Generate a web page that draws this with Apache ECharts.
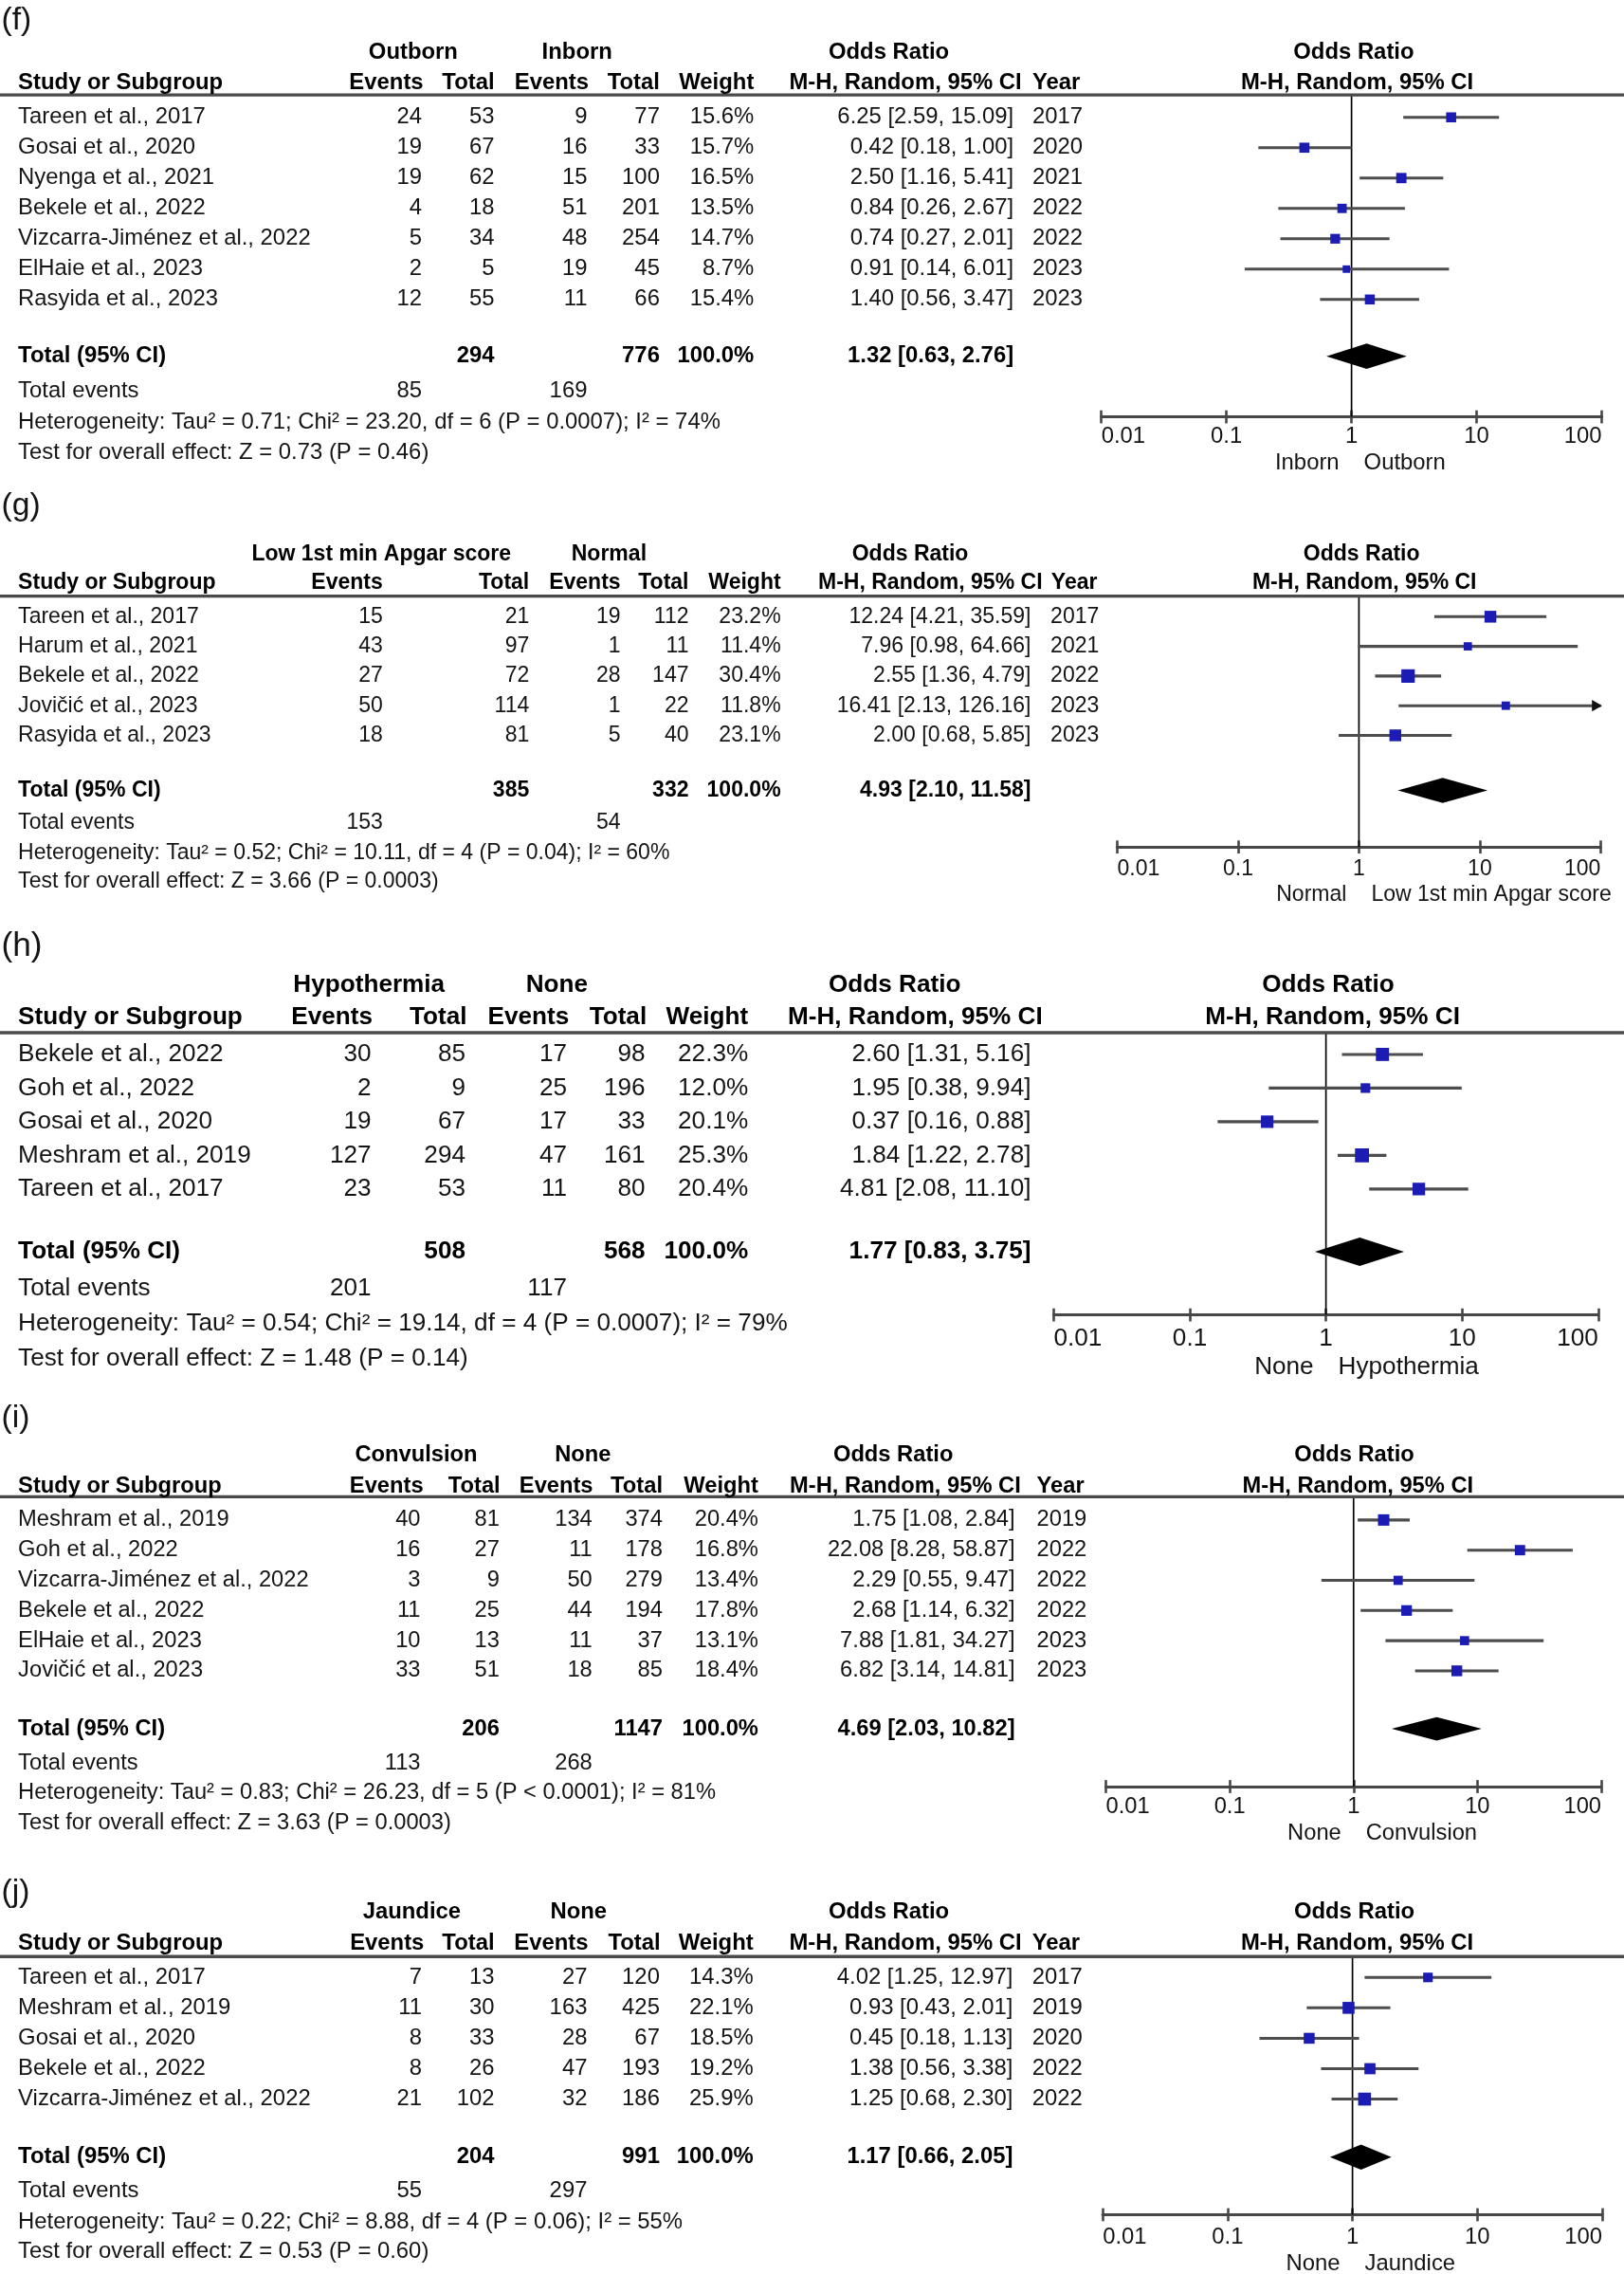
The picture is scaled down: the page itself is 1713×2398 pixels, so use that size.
<!DOCTYPE html>
<html><head><meta charset="utf-8">
<script src="https://cdn.jsdelivr.net/npm/echarts@6/dist/echarts.min.js"></script>
<style>html,body{margin:0;padding:0;background:#fff}#c{width:1713px;height:2398px}</style>
</head><body><div id="c"></div>
<script>
// ---------- axis tick labels ----------
const tickLabels = ['0.01', '0.1', '1', '10', '100'];

// ---------- (f) Outborn vs Inborn ----------
const fStudy = ['Tareen et al., 2017','Gosai et al., 2020','Nyenga et al., 2021','Bekele et al., 2022','Vizcarra-Jiménez et al., 2022','ElHaie et al., 2023','Rasyida et al., 2023'];
const fEvA = [24,19,19,4,5,2,12];
const fTotA = [53,67,62,18,34,5,55];
const fEvB = [9,16,15,51,48,19,11];
const fTotB = [77,33,100,201,254,45,66];
const fWeight = [15.6,15.7,16.5,13.5,14.7,8.7,15.4];
const fOR = [6.25,0.42,2.50,0.84,0.74,0.91,1.40];
const fLo = [2.59,0.18,1.16,0.26,0.27,0.14,0.56];
const fHi = [15.09,1.00,5.41,2.67,2.01,6.01,3.47];
const fYear = [2017,2020,2021,2022,2022,2023,2023];
const fGroups = ['Outborn','Inborn'];
const fFavours = ['Inborn','Outborn'];
const fPooled = [1.32,0.63,2.76];
const fSums = [294,776];
const fEvents = [85,169];
const fHet = 'Heterogeneity: Tau² = 0.71; Chi² = 23.20, df = 6 (P = 0.0007); I² = 74%';
const fTest = 'Test for overall effect: Z = 0.73 (P = 0.46)';

// ---------- (g) Low 1st min Apgar score vs Normal ----------
const gStudy = ['Tareen et al., 2017','Harum et al., 2021','Bekele et al., 2022','Jovičić et al., 2023','Rasyida et al., 2023'];
const gEvA = [15,43,27,50,18];
const gTotA = [21,97,72,114,81];
const gEvB = [19,1,28,1,5];
const gTotB = [112,11,147,22,40];
const gWeight = [23.2,11.4,30.4,11.8,23.1];
const gOR = [12.24,7.96,2.55,16.41,2.00];
const gLo = [4.21,0.98,1.36,2.13,0.68];
const gHi = [35.59,64.66,4.79,126.16,5.85];
const gYear = [2017,2021,2022,2023,2023];
const gGroups = ['Low 1st min Apgar score','Normal'];
const gFavours = ['Normal','Low 1st min Apgar score'];
const gPooled = [4.93,2.10,11.58];
const gSums = [385,332];
const gEvents = [153,54];
const gHet = 'Heterogeneity: Tau² = 0.52; Chi² = 10.11, df = 4 (P = 0.04); I² = 60%';
const gTest = 'Test for overall effect: Z = 3.66 (P = 0.0003)';

// ---------- (h) Hypothermia vs None ----------
const hStudy = ['Bekele et al., 2022','Goh et al., 2022','Gosai et al., 2020','Meshram et al., 2019','Tareen et al., 2017'];
const hEvA = [30,2,19,127,23];
const hTotA = [85,9,67,294,53];
const hEvB = [17,25,17,47,11];
const hTotB = [98,196,33,161,80];
const hWeight = [22.3,12.0,20.1,25.3,20.4];
const hOR = [2.60,1.95,0.37,1.84,4.81];
const hLo = [1.31,0.38,0.16,1.22,2.08];
const hHi = [5.16,9.94,0.88,2.78,11.10];
const hYear = null;
const hGroups = ['Hypothermia','None'];
const hFavours = ['None','Hypothermia'];
const hPooled = [1.77,0.83,3.75];
const hSums = [508,568];
const hEvents = [201,117];
const hHet = 'Heterogeneity: Tau² = 0.54; Chi² = 19.14, df = 4 (P = 0.0007); I² = 79%';
const hTest = 'Test for overall effect: Z = 1.48 (P = 0.14)';

// ---------- (i) Convulsion vs None ----------
const iStudy = ['Meshram et al., 2019','Goh et al., 2022','Vizcarra-Jiménez et al., 2022','Bekele et al., 2022','ElHaie et al., 2023','Jovičić et al., 2023'];
const iEvA = [40,16,3,11,10,33];
const iTotA = [81,27,9,25,13,51];
const iEvB = [134,11,50,44,11,18];
const iTotB = [374,178,279,194,37,85];
const iWeight = [20.4,16.8,13.4,17.8,13.1,18.4];
const iOR = [1.75,22.08,2.29,2.68,7.88,6.82];
const iLo = [1.08,8.28,0.55,1.14,1.81,3.14];
const iHi = [2.84,58.87,9.47,6.32,34.27,14.81];
const iYear = [2019,2022,2022,2022,2023,2023];
const iGroups = ['Convulsion','None'];
const iFavours = ['None','Convulsion'];
const iPooled = [4.69,2.03,10.82];
const iSums = [206,1147];
const iEvents = [113,268];
const iHet = 'Heterogeneity: Tau² = 0.83; Chi² = 26.23, df = 5 (P < 0.0001); I² = 81%';
const iTest = 'Test for overall effect: Z = 3.63 (P = 0.0003)';

// ---------- (j) Jaundice vs None ----------
const jStudy = ['Tareen et al., 2017','Meshram et al., 2019','Gosai et al., 2020','Bekele et al., 2022','Vizcarra-Jiménez et al., 2022'];
const jEvA = [7,11,8,8,21];
const jTotA = [13,30,33,26,102];
const jEvB = [27,163,28,47,32];
const jTotB = [120,425,67,193,186];
const jWeight = [14.3,22.1,18.5,19.2,25.9];
const jOR = [4.02,0.93,0.45,1.38,1.25];
const jLo = [1.25,0.43,0.18,0.56,0.68];
const jHi = [12.97,2.01,1.13,3.38,2.30];
const jYear = [2017,2019,2020,2022,2022];
const jGroups = ['Jaundice','None'];
const jFavours = ['None','Jaundice'];
const jPooled = [1.17,0.66,2.05];
const jSums = [204,991];
const jEvents = [55,297];
const jHet = 'Heterogeneity: Tau² = 0.22; Chi² = 8.88, df = 4 (P = 0.06); I² = 55%';
const jTest = 'Test for overall effect: Z = 0.53 (P = 0.60)';

const totalWeightText = '100.0%';

// ---------- layout (in 1120-wide reference units, scaled below) ----------
const S = 1713 / 1120;
const px = v => v * S;
const FONT = '"Liberation Sans", Arial, sans-serif';

const layF = {tag:'(f)', tagY:14, tagFs:22, fs:15.6, grpY:36, hdrY:57, lineY:65.5, r0:80.9, pitch:20.93, totY:245.6, evY:269.6, hetY:291.5, testY:312.2, axisY:287.4, favY:319.6, x0:759.5, x1:1104.7,
  grpX:[285,398], orX:613, rOrX:933.6, rMhX:936, dH:17.4, tickM:5.8,
  col:{evA:291,totA:341,evB:405,totB:455,w:520,or:699,yr:712}, hdr:{evA:292,totA:341,evB:406,totB:455,w:520,mh:704.6,yr:712}};
const layG = {tag:'(g)', tagY:349, tagFs:22, fs:15.05, grpY:382, hdrY:402, lineY:411, r0:425.2, pitch:20.45, totY:545, evY:567, hetY:588, testY:608, axisY:584, favY:617, x0:770.5, x1:1103.9,
  grpX:[263,420], orX:627.7, rOrX:939, rMhX:941, dH:17.4, tickM:7.5,
  col:{evA:264,totA:365,evB:428,totB:475,w:538.5,or:711,yr:724.5}, hdr:{evA:264,totA:365,evB:428,totB:475,w:538.5,mh:718.9,yr:725}};
const layH = {tag:'(h)', tagY:652.7, tagFs:23, fs:17.1, grpY:679, hdrY:701.6, lineY:712, r0:727, pitch:23.2, totY:863, evY:888.6, hetY:912.5, testY:936.5, axisY:906.6, favY:943, x0:726.7, x1:1102.2,
  grpX:[254.5,384], orX:617, rOrX:916, rMhX:919, dH:19.6, tickM:8.2,
  col:{evA:256,totA:321,evB:391,totB:445,w:516,or:711,yr:null}, hdr:{evA:257,totA:322,evB:392.5,totB:446,w:516,mh:719,yr:null}};
const layI = {tag:'(i)', tagY:978, tagFs:22, fs:15.5, grpY:1003.5, hdrY:1024.6, lineY:1032, r0:1048, pitch:20.8, totY:1192, evY:1215.5, hetY:1236, testY:1257, axisY:1231.8, favY:1264.4, x0:762.7, x1:1104.3,
  grpX:[287,402], orX:616, rOrX:934, rMhX:936.5, dH:16.3, tickM:6.5,
  col:{evA:290,totA:344.5,evB:408.5,totB:457,w:523,or:700,yr:715}, hdr:{evA:292,totA:345,evB:409,totB:457,w:523,mh:704,yr:715}};
const layJ = {tag:'(j)', tagY:1304.8, tagFs:22, fs:15.6, grpY:1318.4, hdrY:1340, lineY:1349, r0:1363.4, pitch:20.97, totY:1487.3, evY:1510.8, hetY:1532, testY:1552.5, axisY:1527, favY:1560.8, x0:760.5, x1:1105,
  grpX:[284,399], orX:613, rOrX:934, rMhX:936, dH:17.4, tickM:7.5,
  col:{evA:291,totA:341,evB:405,totB:455,w:519.6,or:698.6,yr:711.8}, hdr:{evA:292.5,totA:341,evB:405.7,totB:455.5,w:519.6,mh:704.6,yr:711.8}};

const panels = [
  {study:fStudy, evA:fEvA, totA:fTotA, evB:fEvB, totB:fTotB, weight:fWeight, or:fOR, lo:fLo, hi:fHi, year:fYear, groups:fGroups, favours:fFavours, pooled:fPooled, sums:fSums, events:fEvents, het:fHet, test:fTest, L:layF},
  {study:gStudy, evA:gEvA, totA:gTotA, evB:gEvB, totB:gTotB, weight:gWeight, or:gOR, lo:gLo, hi:gHi, year:gYear, groups:gGroups, favours:gFavours, pooled:gPooled, sums:gSums, events:gEvents, het:gHet, test:gTest, L:layG},
  {study:hStudy, evA:hEvA, totA:hTotA, evB:hEvB, totB:hTotB, weight:hWeight, or:hOR, lo:hLo, hi:hHi, year:hYear, groups:hGroups, favours:hFavours, pooled:hPooled, sums:hSums, events:hEvents, het:hHet, test:hTest, L:layH},
  {study:iStudy, evA:iEvA, totA:iTotA, evB:iEvB, totB:iTotB, weight:iWeight, or:iOR, lo:iLo, hi:iHi, year:iYear, groups:iGroups, favours:iFavours, pooled:iPooled, sums:iSums, events:iEvents, het:iHet, test:iTest, L:layI},
  {study:jStudy, evA:jEvA, totA:jTotA, evB:jEvB, totB:jTotB, weight:jWeight, or:jOR, lo:jLo, hi:jHi, year:jYear, groups:jGroups, favours:jFavours, pooled:jPooled, sums:jSums, events:jEvents, het:jHet, test:jTest, L:layJ}
];

const TXT = '#141414';
function T(x, y, text, fs, bold, align) {
  const a = align || 'left';
  return {type:'text', x:px(x), y:px(y), silent:true, z:10,
    style:{text:String(text), fill: bold ? '#000' : TXT,
      font:(bold ? 'bold ' : '') + px(fs).toFixed(2) + 'px ' + FONT,
      align:a, verticalAlign:'middle', textAlign:a, textVerticalAlign:'middle'}};
}
const fmtCI = (o, l, h) => `${o.toFixed(2)} [${l.toFixed(2)}, ${h.toFixed(2)}]`;

function studyRender(k) {
  return function (params, api) {
    const or = api.value(0), lo = api.value(1), hi = api.value(2), w = api.value(3), r = api.value(4);
    const hiC = Math.min(hi, 100);
    const a = api.coord([lo, r]), b = api.coord([hiC, r]), c = api.coord([or, r]);
    const s = px(k * Math.sqrt(w));
    const ch = [
      {type:'line', shape:{x1:a[0], y1:a[1], x2:b[0], y2:b[1]}, style:{stroke:'#4d4d4d', lineWidth:px(2)}},
      {type:'rect', shape:{x:c[0]-s/2, y:c[1]-s/2, width:s, height:s}, style:{fill:'#1c1cb4'}}
    ];
    if (hi > 100) {
      const ah = px(6), aw = px(4);
      ch.push({type:'polygon', shape:{points:[[b[0]+px(1), b[1]], [b[0]-ah, b[1]-aw], [b[0]-ah, b[1]+aw]]}, style:{fill:'#111'}});
    }
    return {type:'group', children:ch};
  };
}
function diamondRender(h) {
  return function (params, api) {
    const or = api.value(0), lo = api.value(1), hi = api.value(2), r = api.value(3);
    const a = api.coord([lo, r]), b = api.coord([hi, r]), c = api.coord([or, r]);
    const hh = px(h) / 2;
    return {type:'polygon', shape:{points:[[a[0], c[1]], [c[0], c[1]-hh], [b[0], c[1]], [c[0], c[1]+hh]]}, style:{fill:'#000'}};
  };
}

const grid = [], xAxis = [], yAxis = [], series = [], graphic = [];

panels.forEach((P, p) => {
  const L = P.L, fs = L.fs;
  // ----- plot area -----
  grid.push({left:px(L.x0), width:px(L.x1 - L.x0), top:px(L.lineY), height:px(L.axisY - L.lineY), show:false});
  const axBase = {gridIndex:p, type:'log', logBase:10, min:0.01, max:100, splitNumber:4, position:'bottom', offset:0,
    splitLine:{show:false}, minorTick:{show:false}, minorSplitLine:{show:false}};
  xAxis.push(Object.assign({}, axBase, {
    axisLine:{show:true, onZero:false, lineStyle:{color:'#474747', width:px(2)}},
    axisTick:{show:true, inside:false, length:px(4.5), lineStyle:{color:'#474747', width:px(1.7)}},
    axisLabel:{show:true, interval:0, margin:px(L.tickM), fontSize:px(fs), fontFamily:FONT, color:TXT,
      alignMinLabel:'left', alignMaxLabel:'right', showMinLabel:true, showMaxLabel:true, hideOverlap:false,
      formatter: v => tickLabels[Math.round(Math.log10(v)) + 2]}
  }));
  xAxis.push(Object.assign({}, axBase, {
    axisLine:{show:false, onZero:false}, axisLabel:{show:false},
    axisTick:{show:true, inside:true, length:px(4.5), lineStyle:{color:'#474747', width:px(1.7)}}
  }));
  const yMin = (L.lineY - L.r0) / L.pitch, yMax = (L.axisY - L.r0) / L.pitch;
  yAxis.push({gridIndex:p, type:'value', inverse:true, min:yMin, max:yMax, show:false, axisLine:{onZero:false}});

  series.push({type:'line', xAxisIndex:2*p, yAxisIndex:p, data:[[1, yMin], [1, yMax]], symbol:'none',
    lineStyle:{color:'#000', width:px(1.1)}, silent:true, z:1, animation:false});
  const k = 1.75 * fs / 15.6;
  series.push({type:'custom', xAxisIndex:2*p, yAxisIndex:p, z:3, animation:false, silent:true, clip:false,
    renderItem:studyRender(k), encode:{x:0, y:4},
    data:P.or.map((v, i) => [v, P.lo[i], P.hi[i], P.weight[i], i])});
  const totIdx = (L.totY - L.r0) / L.pitch;
  series.push({type:'custom', xAxisIndex:2*p, yAxisIndex:p, z:4, animation:false, silent:true, clip:false,
    renderItem:diamondRender(L.dH), encode:{x:0, y:3},
    data:[[P.pooled[0], P.pooled[1], P.pooled[2], totIdx]]});

  // ----- header rule -----
  graphic.push({type:'line', silent:true, z:5, shape:{x1:0, y1:px(L.lineY), x2:1713, y2:px(L.lineY)},
    style:{stroke:'#4a4a4a', lineWidth:px(2.2)}});

  // ----- texts -----
  graphic.push(T(1, L.tagY, L.tag, L.tagFs, false, 'left'));
  graphic.push(T(L.grpX[0], L.grpY, P.groups[0], fs, true, 'center'));
  graphic.push(T(L.grpX[1], L.grpY, P.groups[1], fs, true, 'center'));
  graphic.push(T(L.orX, L.grpY, 'Odds Ratio', fs, true, 'center'));
  graphic.push(T(L.rOrX, L.grpY, 'Odds Ratio', fs, true, 'center'));

  const H = L.hdr, C = L.col;
  graphic.push(T(12.5, L.hdrY, 'Study or Subgroup', fs, true, 'left'));
  graphic.push(T(H.evA, L.hdrY, 'Events', fs, true, 'right'));
  graphic.push(T(H.totA, L.hdrY, 'Total', fs, true, 'right'));
  graphic.push(T(H.evB, L.hdrY, 'Events', fs, true, 'right'));
  graphic.push(T(H.totB, L.hdrY, 'Total', fs, true, 'right'));
  graphic.push(T(H.w, L.hdrY, 'Weight', fs, true, 'right'));
  graphic.push(T(H.mh, L.hdrY, 'M-H, Random, 95% CI', fs, true, 'right'));
  if (H.yr) graphic.push(T(H.yr, L.hdrY, 'Year', fs, true, 'left'));
  graphic.push(T(L.rMhX, L.hdrY, 'M-H, Random, 95% CI', fs, true, 'center'));

  P.study.forEach((name, i) => {
    const y = L.r0 + L.pitch * i;
    graphic.push(T(12.5, y, name, fs, false, 'left'));
    graphic.push(T(C.evA, y, P.evA[i], fs, false, 'right'));
    graphic.push(T(C.totA, y, P.totA[i], fs, false, 'right'));
    graphic.push(T(C.evB, y, P.evB[i], fs, false, 'right'));
    graphic.push(T(C.totB, y, P.totB[i], fs, false, 'right'));
    graphic.push(T(C.w, y, P.weight[i].toFixed(1) + '%', fs, false, 'right'));
    graphic.push(T(C.or, y, fmtCI(P.or[i], P.lo[i], P.hi[i]), fs, false, 'right'));
    if (C.yr && P.year) graphic.push(T(C.yr, y, P.year[i], fs, false, 'left'));
  });

  graphic.push(T(12.5, L.totY, 'Total (95% CI)', fs, true, 'left'));
  graphic.push(T(C.totA, L.totY, P.sums[0], fs, true, 'right'));
  graphic.push(T(C.totB, L.totY, P.sums[1], fs, true, 'right'));
  graphic.push(T(C.w, L.totY, totalWeightText, fs, true, 'right'));
  graphic.push(T(C.or, L.totY, fmtCI(P.pooled[0], P.pooled[1], P.pooled[2]), fs, true, 'right'));

  graphic.push(T(12.5, L.evY, 'Total events', fs, false, 'left'));
  graphic.push(T(C.evA, L.evY, P.events[0], fs, false, 'right'));
  graphic.push(T(C.evB, L.evY, P.events[1], fs, false, 'right'));
  graphic.push(T(12.5, L.hetY, P.het, fs, false, 'left'));
  graphic.push(T(12.5, L.testY, P.test, fs, false, 'left'));

  const xOne = L.x0 + (L.x1 - L.x0) / 2;
  graphic.push(T(xOne - 8.5, L.favY, P.favours[0], fs, false, 'right'));
  graphic.push(T(xOne + 8.5, L.favY, P.favours[1], fs, false, 'left'));
});

const chart = echarts.init(document.getElementById('c'), null, {renderer:'canvas'});
chart.setOption({
  animation:false,
  backgroundColor:'#ffffff',
  grid, xAxis, yAxis, series, graphic
});
</script>
</body></html>
